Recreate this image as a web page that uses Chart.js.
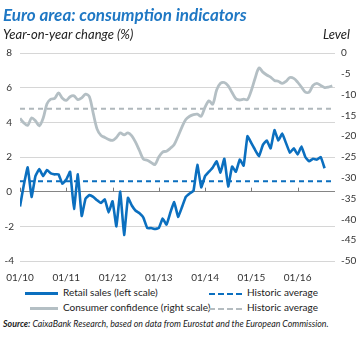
<!DOCTYPE html>
<html>
<head>
<meta charset="utf-8">
<script src="https://cdn.jsdelivr.net/npm/chart.js@4"></script>
<style>
  body { margin: 0; background: #fff; font-family: Lato, "Open Sans", sans-serif; }
  #wrap { position: relative; width: 362px; height: 338px; overflow: hidden; }
  #chart { position: absolute; left: 0; top: 0; }
  .txt { position: absolute; white-space: nowrap; }
  #title { left: 3px; top: 4px; font-size: 17px; font-weight: bold; font-style: italic; color: #1f78c4; }
  #sub { left: 3px; top: 26px; font-size: 13px; font-style: italic; color: #222; }
  #level { right: 12px; top: 26px; font-size: 13px; font-style: italic; color: #222; }
  .leg { position: absolute; font-size: 10px; color: #222; white-space: nowrap; }
  .sw { position: absolute; height: 0; }
  #source { left: 3px; top: 318px; font-size: 8.8px; font-style: italic; color: #222; }
</style>
</head>
<body>
<div id="wrap">
  <canvas id="chart" width="362" height="282"></canvas>
  <div class="txt" id="title">Euro area: consumption indicators</div>
  <div class="txt" id="sub">Year-on-year change (%)</div>
  <div class="txt" id="level">Level</div>

  <div class="sw" style="left:25px; top:292px; width:33px; border-top:3px solid #0b6fbf;"></div>
  <div class="leg" style="left:63px; top:286px;">Retail sales (left scale)</div>
  <div class="sw" style="left:30px; top:307px; width:28px; border-top:3px solid #b4bfc4;"></div>
  <div class="leg" style="left:63px; top:301px;">Consumer confidence (right scale)</div>
  <div class="sw" style="left:209px; top:293px; width:33px; border-top:2px dashed #0b6fbf;"></div>
  <div class="leg" style="left:247px; top:286px;">Historic average</div>
  <div class="sw" style="left:209px; top:308px; width:33px; border-top:2px dashed #b4bcc0;"></div>
  <div class="leg" style="left:247px; top:301px;">Historic average</div>

  <div class="txt" id="source"><b>Source:</b> CaixaBank Research, based on data from Eurostat and the European Commission.</div>
</div>
<script>
// monthly, Jan 2010 onwards
const retailSales = [
  -0.85, 0.4, 1.4, -0.3, 0.9, 1.3, 0.9, 1.25, 1.05, 1.0,
  1.0, 0.45, 0.7, 1.15, -1.0, 1.0, -1.4, -0.4, -0.2, -0.3,
  -0.5, -0.65, -0.45, -1.2, -0.55, -2.0, 0.0, -2.5, -0.35, -0.8,
  -1.1, -1.25, -1.5, -2.1, -2.1, -2.15, -2.1, -1.55, -1.9, -1.2,
  -0.6, -1.45, -0.9, -0.3, -0.1, 0.05, 1.55, 0.25, 0.9, 1.15,
  1.4, 1.75, 1.1, 1.9, 0.3, 1.45, 1.15, 1.85, 1.5, 3.2,
  2.8, 2.4, 2.05, 2.7, 2.95, 2.5, 3.55, 2.95, 3.35, 2.8,
  2.25, 2.5, 2.15, 2.6, 2.0, 1.75, 1.9, 1.85, 2.0, 1.35
];
const confidence = [
  -15.7, -16.8, -17.4, -15.6, -16.3, -17.5, -15.7, -12.2, -11.1, -10.9,
  -9.6, -10.9, -11.4, -10.5, -10.3, -11.2, -10.8, -9.9, -10.5, -14.5,
  -18.3, -19.8, -20.3, -20.8, -21.0, -20.3, -19.2, -19.7, -19.2, -19.9,
  -21.5, -23.5, -25.5, -25.8, -26.3, -26.8, -25.0, -23.8, -23.6, -22.9,
  -22.0, -20.0, -17.8, -16.0, -15.2, -14.8, -14.7, -15.2, -13.0, -11.5,
  -12.3, -8.9, -7.3, -7.1, -7.9, -9.5, -11.0, -11.3, -11.1, -11.2,
  -9.0, -6.0, -3.6, -4.6, -5.3, -5.8, -6.6, -6.8, -7.3, -6.8,
  -5.9, -6.1, -7.0, -8.2, -9.4, -9.4, -7.8, -7.3, -7.8, -8.3,
  -8.2, -7.9
];
const retailAvg = 0.6;
const confidenceAvg = -13.4;

const tickMonths = [0, 12, 24, 36, 48, 60, 72];
const tickLabels = ['01/10', '01/11', '01/12', '01/13', '01/14', '01/15', '01/16'];
const X_MAX = 81.7;

const BLUE = '#0b6fbf';
const GREY = '#b4bfc4';
const FONT = { family: 'Lato, "Open Sans", sans-serif', size: 10 };

// little tick marks sitting on the zero line
const zeroTicks = {
  id: 'zeroTicks',
  beforeDatasetsDraw(chart) {
    const { ctx, scales: { x, y } } = chart;
    const y0 = y.getPixelForValue(0);
    ctx.save();
    ctx.strokeStyle = '#7a7a7a';
    ctx.lineWidth = 1;
    tickMonths.forEach(m => {
      const px = Math.round(x.getPixelForValue(m)) + 0.5;
      ctx.beginPath();
      ctx.moveTo(px, y0);
      ctx.lineTo(px, y0 - 4);
      ctx.stroke();
    });
    ctx.restore();
  }
};

const ctx = document.getElementById('chart').getContext('2d');
new Chart(ctx, {
  type: 'line',
  plugins: [zeroTicks],
  data: {
    datasets: [
      {
        label: 'Retail sales (left scale)',
        data: retailSales.map((v, i) => ({ x: i, y: v })),
        yAxisID: 'y',
        borderColor: BLUE,
        borderWidth: 2.6,
        tension: 0.1,
        pointRadius: 0
      },
      {
        label: 'Consumer confidence (right scale)',
        data: confidence.map((v, i) => ({ x: i, y: v })),
        yAxisID: 'y2',
        borderColor: GREY,
        borderWidth: 2.8,
        tension: 0.3,
        pointRadius: 0
      },
      {
        label: 'Historic average',
        data: [{ x: 0, y: retailAvg }, { x: X_MAX, y: retailAvg }],
        yAxisID: 'y',
        borderColor: BLUE,
        borderWidth: 1.8,
        borderDash: [5, 4],
        pointRadius: 0
      },
      {
        label: 'Historic average',
        data: [{ x: 0, y: confidenceAvg }, { x: X_MAX, y: confidenceAvg }],
        yAxisID: 'y2',
        borderColor: '#b0b8bc',
        borderWidth: 1.8,
        borderDash: [5, 4],
        pointRadius: 0
      }
    ]
  },
  options: {
    responsive: false,
    animation: false,
    layout: { padding: { top: 53, left: 0, right: 0, bottom: 0 } },
    plugins: {
      legend: { display: false },
      title: { display: false },
      tooltip: { enabled: false }
    },
    scales: {
      x: {
        type: 'linear',
        min: 0,
        max: X_MAX,
        border: { display: false },
        grid: { display: false },
        afterBuildTicks: s => { s.ticks = tickMonths.map(v => ({ value: v })); },
        afterFit: s => { s.height = 21; },
        ticks: {
          font: FONT,
          color: '#333',
          padding: 3,
          maxRotation: 0,
          autoSkip: false,
          callback: v => tickLabels[tickMonths.indexOf(v)]
        }
      },
      y: {
        position: 'left',
        min: -4,
        max: 8,
        border: { display: false },
        grid: {
          drawTicks: false,
          color: c => c.tick.value === 0 ? '#858585' : '#d6d6d6',
          lineWidth: 1
        },
        afterFit: s => { s.width = 20; },
        ticks: { stepSize: 2, font: FONT, color: '#333', padding: 6, crossAlign: 'center' }
      },
      y2: {
        position: 'right',
        min: -50,
        max: 0,
        border: { display: false },
        grid: { display: false, drawOnChartArea: false, drawTicks: false },
        afterFit: s => { s.width = 27; },
        ticks: { stepSize: 5, font: FONT, color: '#333', padding: 6 }
      }
    }
  }
});
</script>
</body>
</html>
